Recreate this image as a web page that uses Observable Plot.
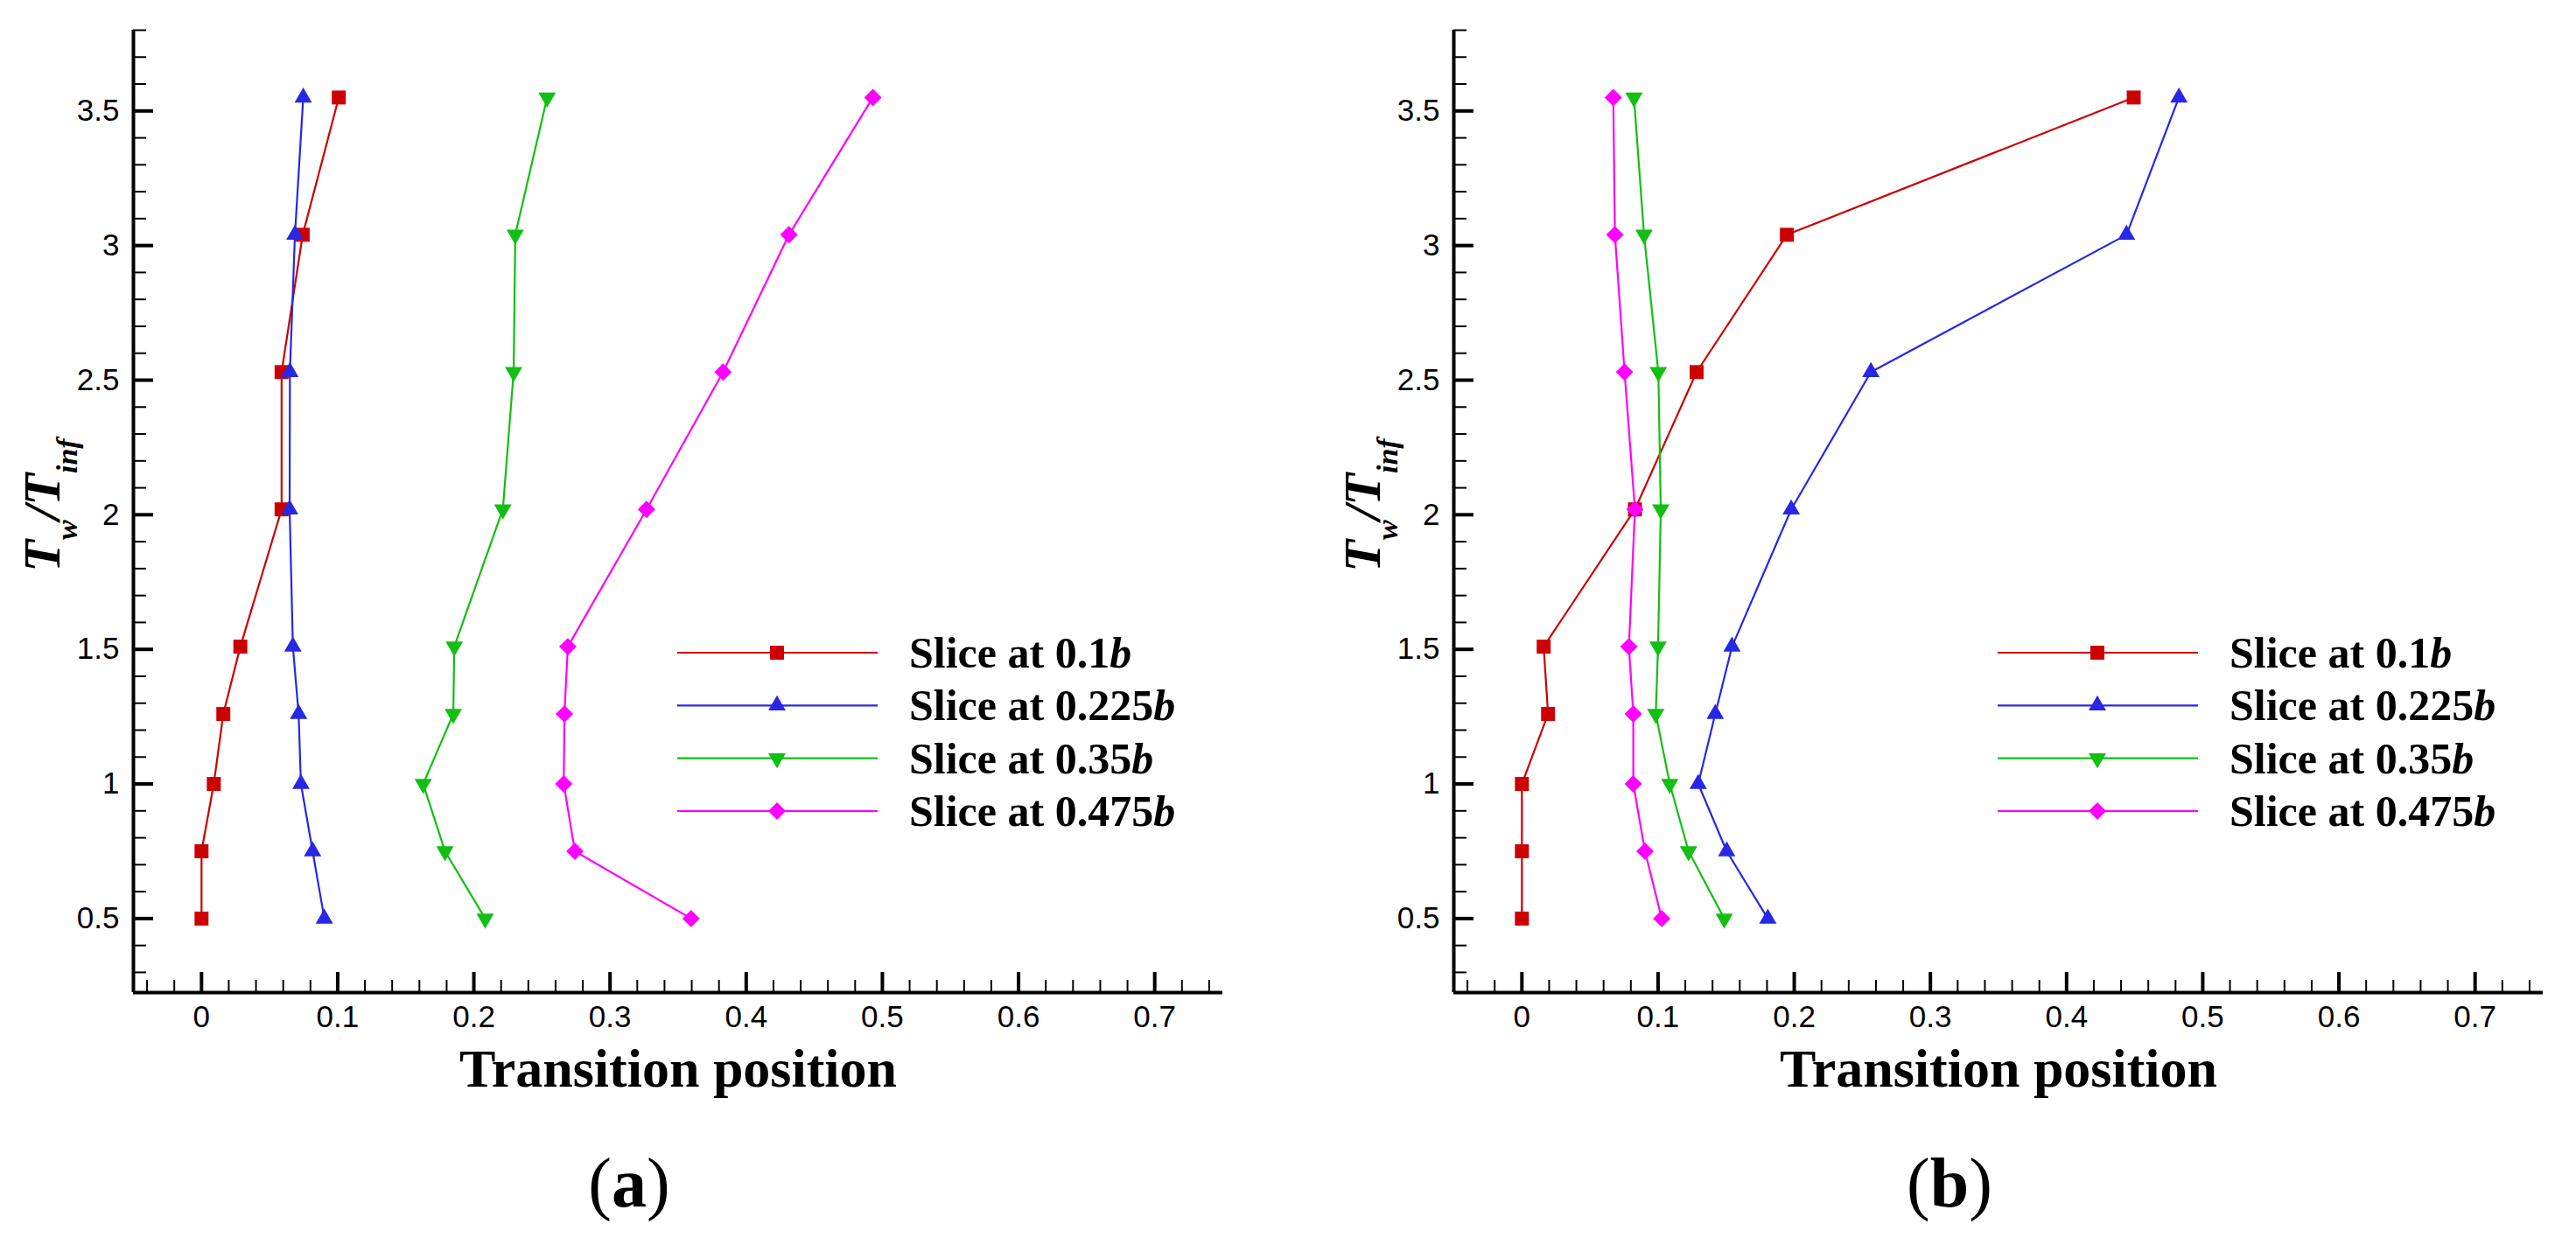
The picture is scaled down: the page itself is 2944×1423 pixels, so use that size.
<!DOCTYPE html>
<html>
<head>
<meta charset="utf-8">
<script src="https://cdn.jsdelivr.net/npm/d3@7"></script>
<script src="https://cdn.jsdelivr.net/npm/@observablehq/plot@0.6"></script>
<style>

html, body {
	margin: 0;
	background: white;
	overflow: hidden;
}

#figure {
	position: relative;
	width: 2944px;
	height: 1423px;
}

.panel {
	position: absolute;
	top: 0;
	width: 1435px;
	height: 1423px;
}

.panel > svg {
	position: absolute;
	left: 0;
	top: 0;
}

.panel > svg.legend {
	left: 760px;
	top: 700px;
}

.caption {
	position: absolute;
	left: 619px;
	width: 200px;
	top: 1312px;
	text-align: center;
	font-family: "Liberation Serif", serif;
	font-size: 80px;
	line-height: 1;
}

</style>
</head>
<body>
<div id="figure">
	<div class="panel" id="panel-a" style="left: 0px"></div>
	<div class="panel" id="panel-b" style="left: 1509px"></div>
</div>
<script>

// wall temperature ratio at which each slice was evaluated
const tRatio = [0.5, 0.75, 1.0, 1.26, 1.51, 2.02, 2.53, 3.04, 3.55];
const slices = ['0.1', '0.225', '0.35', '0.475'];

// panel (a): transition position per slice
const a_slice010 = [0, 0, 0.009, 0.016, 0.0285, 0.0588, 0.0588, 0.0743, 0.1008];
const a_slice0225 = [0.0902, 0.0816, 0.073, 0.0713, 0.0671, 0.0647, 0.0649, 0.0686, 0.0747];
const a_slice035 = [0.2083, 0.1788, 0.1628, 0.1849, 0.1856, 0.2213, 0.2292, 0.2304, 0.2538];
const a_slice0475 = [0.3595, 0.2742, 0.266, 0.2665, 0.269, 0.3268, 0.383, 0.4314, 0.493];

// panel (b)
const b_slice010 = [0, 0, 0, 0.0192, 0.016, 0.083, 0.1283, 0.1946, 0.4493];
const b_slice0225 = [0.1806, 0.1504, 0.1295, 0.142, 0.1543, 0.1978, 0.2563, 0.444, 0.4825];
const b_slice035 = [0.1486, 0.1224, 0.1086, 0.0983, 0.1, 0.102, 0.1002, 0.0897, 0.0823];
const b_slice0475 = [0.1027, 0.0904, 0.0818, 0.0818, 0.0786, 0.083, 0.0754, 0.0683, 0.0671];

// axes
const xDomain = [-0.05, 0.75];
const yDomain = [0.225, 3.8];
const xTicks = [0, 0.1, 0.2, 0.3, 0.4, 0.5, 0.6, 0.7];
const yTicks = [0.5, 1, 1.5, 2, 2.5, 3, 3.5];
const xMinor = d3.range(-0.04, 0.75, 0.02).filter(d => Math.abs(d * 10 - Math.round(d * 10)) > 1e-6);
const yMinor = d3.range(0.3, 3.81, 0.1).filter(d => Math.abs(d * 2 - Math.round(d * 2)) > 1e-6);

const triangleDown = {
	draw(context, size) {
		const y = -Math.sqrt(size / (Math.sqrt(3) * 3));
		context.moveTo(0, -y * 2);
		context.lineTo(-Math.sqrt(3) * y, y);
		context.lineTo(Math.sqrt(3) * y, y);
		context.closePath();
	}
};

const seriesStyle = [
	{ color: '#cc0000', symbol: d3.symbolSquare, r: 9 },
	{ color: '#2727e6', symbol: d3.symbolTriangle, r: 7.4 },
	{ color: '#12bf12', symbol: triangleDown, r: 7.4 },
	{ color: '#ff00ff', symbol: d3.symbolDiamond2, r: 9 },
];

const panels = [
	{ id: '#panel-a', caption: 'a', values: [a_slice010, a_slice0225, a_slice035, a_slice0475] },
	{ id: '#panel-b', caption: 'b', values: [b_slice010, b_slice0225, b_slice035, b_slice0475] },
];

const width = 1435, height = 1260;
const marginLeft = 152, marginRight = 38, marginTop = 34, marginBottom = 126;
const plotW = width - marginLeft - marginRight;
const plotH = height - marginTop - marginBottom;
const serif = '"Liberation Serif", serif';
const sans = '"Liberation Sans", Arial, sans-serif';

for (let panel of panels) {
	const series = panel.values.map((vals, k) => ({
		rows: vals.map((v, i) => ({ x: v, y: tRatio[i] })),
		...seriesStyle[k],
	}));

	const plot = Plot.plot({
		width: width,
		height: height,
		marginLeft: marginLeft,
		marginRight: marginRight,
		marginTop: marginTop,
		marginBottom: marginBottom,
		style: { background: 'white', overflow: 'visible' },
		x: { domain: xDomain },
		y: { domain: yDomain },
		marks: [
			Plot.tickY(yMinor, { y: d => d, insetRight: plotW - 15, strokeWidth: 2 }),
			Plot.tickY(yTicks, { y: d => d, insetRight: plotW - 23, strokeWidth: 4 }),
			Plot.tickX(xMinor, { x: d => d, insetTop: plotH - 14, strokeWidth: 2 }),
			Plot.tickX(xTicks, { x: d => d, insetTop: plotH - 23, strokeWidth: 4 }),
			Plot.ruleX([xDomain[0]], { strokeWidth: 4 }),
			Plot.ruleY([yDomain[0]], { strokeWidth: 4 }),
			Plot.axisX({ ticks: xTicks, tickSize: 0, tickPadding: 15, fontSize: 35, fontFamily: sans, label: null, tickFormat: d => String(d) }),
			Plot.axisY({ ticks: yTicks, tickSize: 0, tickPadding: 16, fontSize: 35, fontFamily: sans, label: null, tickFormat: d => String(d) }),
			...series.map(s => Plot.line(s.rows, { x: 'x', y: 'y', stroke: s.color, strokeWidth: 2.2 })),
			...series.map(s => Plot.dot(s.rows, { x: 'x', y: 'y', fill: s.color, stroke: 'none', symbol: s.symbol, r: s.r })),
			Plot.text(['Transition position'], { frameAnchor: 'bottom', dy: 107, lineAnchor: 'bottom',
			                                     fontFamily: serif, fontSize: 62, fontWeight: 'bold' }),
			Plot.text(['Tw/Tinf'], { frameAnchor: 'left', rotate: -90, dx: -104, dy: -7, textAnchor: 'middle',
			                         fontFamily: serif, fontSize: 60, fontWeight: 'bold', fontStyle: 'italic' }),
		],
	});

	const div = document.querySelector(panel.id);
	div.append(plot);

	// subscripts on the y label
	for (let node of plot.querySelectorAll('text')) {
		if (node.textContent == 'Tw/Tinf') {
			node.innerHTML = 'T<tspan baseline-shift="-20" font-size="34">w</tspan>/T<tspan baseline-shift="-20" font-size="34">inf</tspan>';
		}
	}

	// legend
	const legend = d3.select(div).append('svg')
		.attr('class', 'legend')
		.attr('width', 600)
		.attr('height', 280);
	series.forEach((s, i) => {
		const y = 46 + i * 60.33;
		legend.append('line')
			.attr('x1', 14).attr('x2', 243).attr('y1', y).attr('y2', y)
			.attr('stroke', s.color).attr('stroke-width', 2.2);
		legend.append('path')
			.attr('transform', `translate(128,${y})`)
			.attr('d', d3.symbol(s.symbol, Math.PI * s.r * s.r)())
			.attr('fill', s.color);
		const t = legend.append('text')
			.attr('x', 279).attr('y', y + 17)
			.attr('font-family', serif).attr('font-size', 50).attr('font-weight', 'bold');
		t.append('tspan').text(`Slice at ${slices[i]}`);
		t.append('tspan').attr('font-style', 'italic').text('b');
	});

	const cap = document.createElement('div');
	cap.className = 'caption';
	cap.innerHTML = `(<b>${panel.caption}</b>)`;
	div.append(cap);
}

</script>
</body>
</html>
